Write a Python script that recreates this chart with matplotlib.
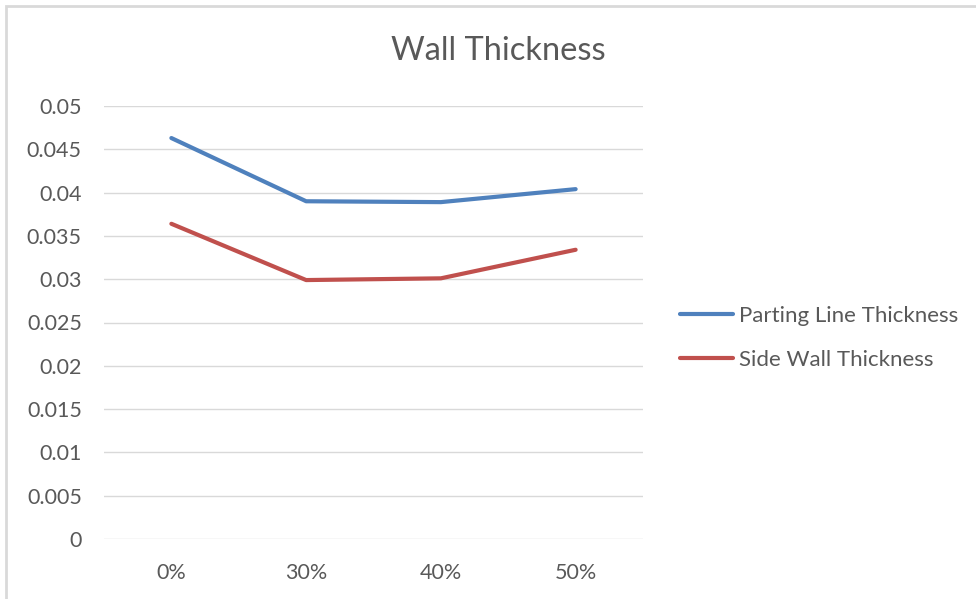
import matplotlib.pyplot as plt
from matplotlib.patches import Rectangle

# wall thickness at each level
levels = ["0%", "30%", "40%", "50%"]
parting_line = [0.0463, 0.0390, 0.0389, 0.0404]
side_wall = [0.0364, 0.0299, 0.0301, 0.0334]

text_gray = "#595959"
grid_gray = "#D9D9D9"

plt.rcParams['font.family'] = ['Lato', 'DejaVu Sans']

fig = plt.figure(figsize=(9.76, 5.99), dpi=100)
ax = fig.add_axes([104 / 976, 60 / 599, 539 / 976, 433 / 599])

x = range(len(levels))
ax.plot(x, parting_line, color="#4F81BD", lw=3, solid_capstyle="round",
        label="Parting Line Thickness")
ax.plot(x, side_wall, color="#C0504D", lw=3, solid_capstyle="round",
        label="Side Wall Thickness")

ax.set_xlim(-0.5, len(levels) - 0.5)
ax.set_ylim(0, 0.05)
ax.set_yticks([i * 0.005 for i in range(11)])
ax.set_yticklabels(["0", "0.005", "0.01", "0.015", "0.02", "0.025", "0.03",
                    "0.035", "0.04", "0.045", "0.05"])
ax.set_xticks(list(x))
ax.set_xticklabels(levels)
ax.tick_params(length=0, labelsize=15.5, colors=text_gray)
ax.tick_params(axis="y", pad=16)
ax.tick_params(axis="x", pad=17)
ax.grid(axis="y", color=grid_gray, lw=1)
ax.set_axisbelow(True)
for s in ax.spines.values():
    s.set_visible(False)

fig.text(498 / 976, 1 - 51 / 599, "Wall Thickness", ha="center", va="center",
         fontsize=23.5, color=text_gray)

ax.legend(loc="center left", bbox_to_anchor=(680 / 976, 1 - 338 / 599),
          bbox_transform=fig.transFigure, frameon=False, fontsize=16,
          labelcolor=text_gray, handlelength=2.4, handletextpad=0.25,
          labelspacing=1.1, borderpad=0, borderaxespad=0)

# chart border
fig.patches.append(Rectangle((6 / 976, -0.1), 1.1, 1 - 6 / 599 + 0.1,
                             transform=fig.transFigure, fill=False,
                             edgecolor=grid_gray, lw=2))

fig.savefig("out.png", dpi=100)
